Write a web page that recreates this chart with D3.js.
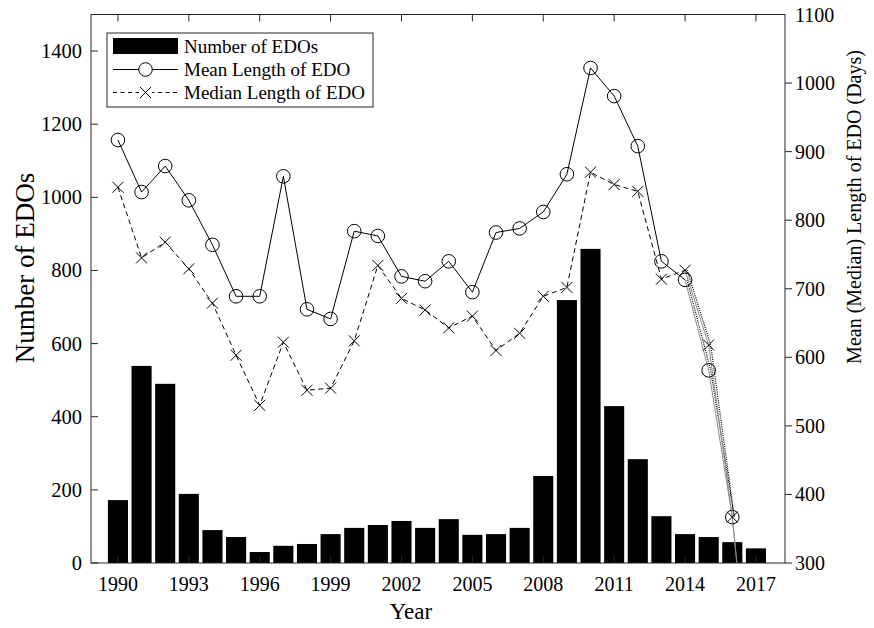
<!DOCTYPE html>
<html>
<head>
<meta charset="utf-8">
<script src="https://cdn.jsdelivr.net/npm/d3@7"></script>
<style>
  body { margin: 0; background: #fff; }
  text { font-family: "Liberation Serif", "Times New Roman", serif; fill: #000; }
</style>
</head>
<body>
<div id="chart"></div>
<script>
// data
var years = [1990, 1991, 1992, 1993, 1994, 1995, 1996, 1997, 1998, 1999,
             2000, 2001, 2002, 2003, 2004, 2005, 2006, 2007, 2008, 2009,
             2010, 2011, 2012, 2013, 2014, 2015, 2016, 2017];
var edoCount = [172, 539, 490, 189, 90, 71, 30, 47, 52, 79,
                96, 104, 115, 96, 120, 77, 79, 96, 238, 719,
                859, 429, 284, 128, 79, 71, 57, 40];
var meanLength = [917, 841, 879, 829, 764, 689, 689, 864, 670, 656,
                  784, 777, 718, 711, 740, 695, 782, 788, 812, 867,
                  1022, 981, 908, 740, 713, 581, 367, 20];
var medianLength = [848, 745, 768, 729, 679, 603, 530, 622, 552, 555,
                    624, 734, 686, 669, 643, 660, 610, 635, 689, 702,
                    870, 852, 842, 714, 727, 618, 367, 20];
var xTicks = [1990, 1993, 1996, 1999, 2002, 2005, 2008, 2011, 2014, 2017];
var leftTicks = [0, 200, 400, 600, 800, 1000, 1200, 1400];
var rightTicks = [300, 400, 500, 600, 700, 800, 900, 1000, 1100];
var lastSolidYear = 2014;   // after this the lines turn dotted
var lastMarkYear = 2016;

var W = 874, H = 628;
var plot = {left: 91, right: 785, top: 14.5, bottom: 563};
var axisColor = "#262626";

var svg = d3.select("#chart").append("svg")
    .attr("width", W)
    .attr("height", H);

svg.append("defs").append("clipPath")
    .attr("id", "plotClip")
  .append("rect")
    .attr("x", plot.left)
    .attr("y", plot.top)
    .attr("width", plot.right - plot.left)
    .attr("height", plot.bottom - plot.top);

// --- SCALES ---
var xScale = d3.scaleLinear()
    .domain([1988.86, 2018.23])
    .range([plot.left, plot.right]);
var yLeft = d3.scaleLinear()
    .domain([0, 1500])
    .range([plot.bottom, plot.top]);
var yRight = d3.scaleLinear()
    .domain([300, 1100])
    .range([plot.bottom, plot.top]);

var step = xScale(1991) - xScale(1990);
var barW = step * 0.85;

// --- BARS ---
var bars = svg.append("g").attr("clip-path", "url(#plotClip)");
bars.selectAll("rect")
    .data(years)
    .enter()
    .append("rect")
    .attr("x", function(d){ return xScale(d) - barW / 2; })
    .attr("y", function(d, i){ return yLeft(edoCount[i]); })
    .attr("width", barW)
    .attr("height", function(d, i){ return plot.bottom - yLeft(edoCount[i]); })
    .attr("fill", "#000");

// --- LINES ---
var lines = svg.append("g").attr("clip-path", "url(#plotClip)");

function series(values, from, to) {
    var out = [];
    years.forEach(function(y, i){
        if (y >= from && y <= to) out.push({year: y, v: values[i]});
    });
    return out;
}
var lineGen = d3.line()
    .x(function(d){ return xScale(d.year); })
    .y(function(d){ return yRight(d.v); });

// grey tail running off the bottom, plus dotted copy
[meanLength, medianLength].forEach(function(vals){
    lines.append("path")
        .datum(series(vals, lastSolidYear, 2017))
        .attr("fill", "none")
        .attr("stroke", "#8c8c8c")
        .attr("stroke-width", 1)
        .attr("d", lineGen);
    lines.append("path")
        .datum(series(vals, lastSolidYear, lastMarkYear))
        .attr("fill", "none")
        .attr("stroke", "#000")
        .attr("stroke-width", 1.2)
        .attr("stroke-dasharray", "1,1.2")
        .attr("transform", "translate(2,0)")
        .attr("d", lineGen);
});

lines.append("path")
    .datum(series(meanLength, 1990, lastSolidYear))
    .attr("fill", "none")
    .attr("stroke", "#000")
    .attr("stroke-width", 1)
    .attr("d", lineGen);

lines.append("path")
    .datum(series(medianLength, 1990, lastSolidYear))
    .attr("fill", "none")
    .attr("stroke", "#000")
    .attr("stroke-width", 1)
    .attr("stroke-dasharray", "5,3.5")
    .attr("d", lineGen);

// markers
lines.selectAll("circle.mean")
    .data(series(meanLength, 1990, lastMarkYear))
    .enter()
    .append("circle")
    .attr("class", "mean")
    .attr("cx", function(d){ return xScale(d.year); })
    .attr("cy", function(d){ return yRight(d.v); })
    .attr("r", 6.8)
    .attr("fill", "none")
    .attr("stroke", "#000")
    .attr("stroke-width", 1);

function xMark(g, x, y, s) {
    g.append("path")
        .attr("d", "M" + (x - s) + "," + (y - s) + "L" + (x + s) + "," + (y + s) +
                   "M" + (x - s) + "," + (y + s) + "L" + (x + s) + "," + (y - s))
        .attr("stroke", "#000")
        .attr("stroke-width", 1)
        .attr("fill", "none");
}
series(medianLength, 1990, lastMarkYear).forEach(function(d){
    xMark(lines, xScale(d.year), yRight(d.v), 5.5);
});

// --- AXES ---
var axes = svg.append("g");
axes.append("rect")
    .attr("x", plot.left)
    .attr("y", plot.top)
    .attr("width", plot.right - plot.left)
    .attr("height", plot.bottom - plot.top)
    .attr("fill", "none")
    .attr("stroke", axisColor)
    .attr("stroke-width", 1);

var tickLen = 7;
// x ticks, bottom and top, pointing in
xTicks.forEach(function(t){
    var x = xScale(t);
    axes.append("line")
        .attr("x1", x).attr("x2", x)
        .attr("y1", plot.bottom).attr("y2", plot.bottom - tickLen)
        .attr("stroke", axisColor);
    axes.append("line")
        .attr("x1", x).attr("x2", x)
        .attr("y1", plot.top).attr("y2", plot.top + tickLen)
        .attr("stroke", axisColor);
    axes.append("text")
        .attr("x", x)
        .attr("y", plot.bottom + 28)
        .attr("text-anchor", "middle")
        .attr("font-size", "20px")
        .text(t);
});

leftTicks.forEach(function(t){
    var y = yLeft(t);
    axes.append("line")
        .attr("x1", plot.left).attr("x2", plot.left + tickLen)
        .attr("y1", y).attr("y2", y)
        .attr("stroke", axisColor);
    axes.append("text")
        .attr("x", plot.left - 9)
        .attr("y", y + 7)
        .attr("text-anchor", "end")
        .attr("font-size", "20.5px")
        .text(t);
});

// right axis ticks stick outward
rightTicks.forEach(function(t){
    var y = yRight(t);
    if (t < 1100) {
        axes.append("line")
            .attr("x1", plot.right).attr("x2", plot.right + tickLen)
            .attr("y1", y).attr("y2", y)
            .attr("stroke", axisColor);
    }
    axes.append("text")
        .attr("x", plot.right + 10)
        .attr("y", y + 7)
        .attr("text-anchor", "start")
        .attr("font-size", "20px")
        .text(t);
});

// axis titles
svg.append("text")
    .attr("x", 411)
    .attr("y", 619)
    .attr("text-anchor", "middle")
    .attr("font-size", "23px")
    .text("Year");

svg.append("text")
    .attr("transform", "translate(34,268) rotate(-90)")
    .attr("text-anchor", "middle")
    .attr("font-size", "27px")
    .text("Number of EDOs");

svg.append("text")
    .attr("transform", "translate(861,207) rotate(-90)")
    .attr("text-anchor", "middle")
    .attr("font-size", "20px")
    .text("Mean (Median) Length of EDO (Days)");

// --- LEGEND ---
var legend = svg.append("g");
legend.append("rect")
    .attr("x", 107).attr("y", 33)
    .attr("width", 266).attr("height", 74)
    .attr("fill", "#fff")
    .attr("stroke", axisColor)
    .attr("stroke-width", 1);

var rows = [46, 69.5, 92.5];
legend.append("rect")
    .attr("x", 113).attr("y", rows[0] - 8)
    .attr("width", 65).attr("height", 16)
    .attr("fill", "#000");
legend.append("line")
    .attr("x1", 113).attr("x2", 178)
    .attr("y1", rows[1]).attr("y2", rows[1])
    .attr("stroke", "#000");
legend.append("circle")
    .attr("cx", 145.5).attr("cy", rows[1]).attr("r", 6.8)
    .attr("fill", "#fff").attr("stroke", "#000");
legend.append("line")
    .attr("x1", 113).attr("x2", 178)
    .attr("y1", rows[2]).attr("y2", rows[2])
    .attr("stroke", "#000")
    .attr("stroke-dasharray", "4,3.5");
legend.append("rect")
    .attr("x", 139).attr("y", rows[2] - 6)
    .attr("width", 13).attr("height", 12)
    .attr("fill", "#fff");
xMark(legend, 145.5, rows[2], 5.5);

var labels = ["Number of EDOs", "Mean Length of EDO", "Median Length of EDO"];
labels.forEach(function(l, i){
    legend.append("text")
        .attr("x", 184)
        .attr("y", rows[i] + 6.5)
        .attr("font-size", "19px")
        .text(l);
});
</script>
</body>
</html>
